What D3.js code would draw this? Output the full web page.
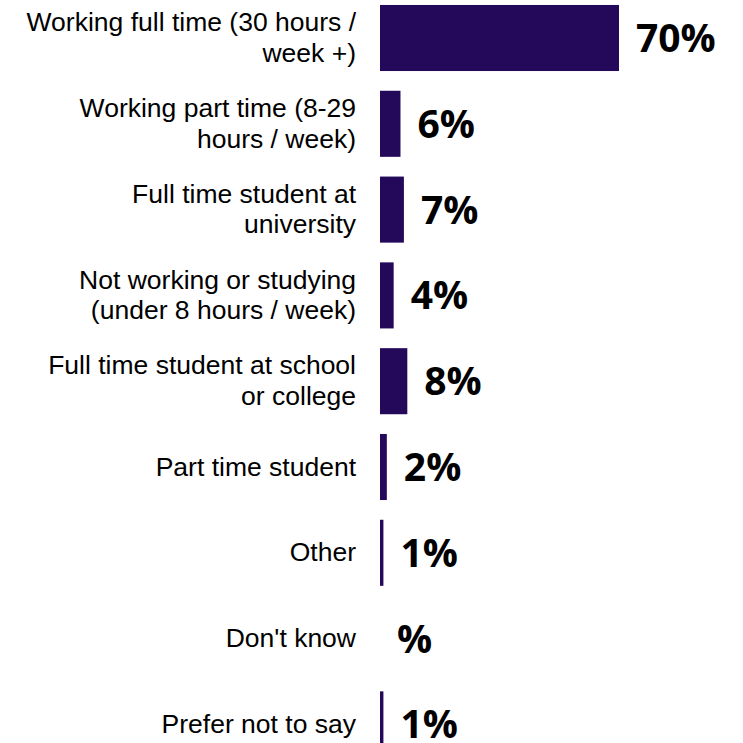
<!DOCTYPE html>
<html>
<head>
<meta charset="utf-8">
<script src="https://cdn.jsdelivr.net/npm/d3@7"></script>
<style>
  html, body { margin: 0; padding: 0; background: #fff; }
  svg { display: block; }
</style>
</head>
<body>
<svg id="chart" width="743" height="743"></svg>
<script>
const categories = [
  "Working full time (30 hours /\nweek +)",
  "Working part time (8-29\nhours / week)",
  "Full time student at\nuniversity",
  "Not working or studying\n(under 8 hours / week)",
  "Full time student at school\nor college",
  "Part time student",
  "Other",
  "Don't know",
  "Prefer not to say"
];
const values = [70, 6, 7, 4, 8, 2, 1, null, 1];

const barColor = "#24095a";
const svg = d3.select("#chart");

const step = 85.8;
const firstCenter = 38;
const y = d3.scaleBand()
  .domain(categories)
  .range([firstCenter - step / 2, firstCenter - step / 2 + step * categories.length])
  .paddingInner(0.23)
  .paddingOuter(0.115);

const x = d3.scaleLinear()
  .domain([0, d3.max(values)])
  .range([380, 619]);

const rows = categories.map((c, i) => ({ cat: c, v: values[i] }));

// bars
svg.append("g").selectAll("rect")
  .data(rows.filter(d => d.v !== null))
  .join("rect")
  .attr("x", x(0))
  .attr("y", d => y(d.cat))
  .attr("width", d => Math.max(0, x(d.v) - x(0)))
  .attr("height", y.bandwidth())
  .attr("fill", barColor);

// value labels
svg.append("g").selectAll("text")
  .data(rows)
  .join("text")
  .attr("x", d => x(d.v ?? 0) + 17)
  .attr("y", d => y(d.cat) + y.bandwidth() / 2 + 14)
  .attr("font-family", "'Open Sans', sans-serif")
  .attr("font-weight", 700)
  .attr("font-size", 39)
  .attr("fill", "#000")
  .text(d => (d.v === null ? "" : d.v) + "%");

// category labels
const lh = 30.5;
const lab = svg.append("g").selectAll("text")
  .data(rows)
  .join("text")
  .attr("text-anchor", "end")
  .attr("font-family", "'Liberation Sans', Arial, sans-serif")
  .attr("font-size", 26.5)
  .attr("fill", "#000");

lab.each(function(d) {
  const lines = d.cat.split("\n");
  const n = lines.length;
  const c = y(d.cat) + y.bandwidth() / 2;
  d3.select(this).selectAll("tspan")
    .data(lines)
    .join("tspan")
    .attr("x", 356)
    .attr("y", (l, i) => c + 8.5 + (i - (n - 1) / 2) * lh)
    .text(l => l);
});
</script>
</body>
</html>
